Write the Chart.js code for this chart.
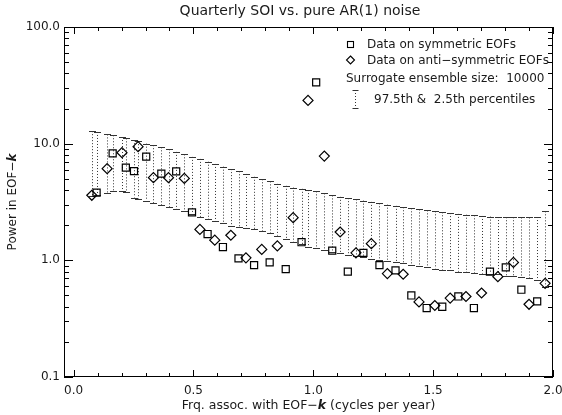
<!DOCTYPE html>
<html>
<head>
<meta charset="utf-8">
<title>Quarterly SOI vs. pure AR(1) noise</title>
<script src="https://cdn.jsdelivr.net/npm/chart.js@4.4.0/dist/chart.umd.min.js"></script>
<style>
  html, body { margin: 0; padding: 0; background: #fff; }
  #wrap { width: 562px; height: 415px; }
</style>
</head>
<body>
<div id="wrap"><canvas id="soiChart" width="562" height="415"></canvas></div>
<script>
// Quarterly SOI vs. pure AR(1) noise - MC-SSA spectrum

// Data on symmetric EOFs (squares)
const symFreq = [0.096, 0.163, 0.218, 0.252, 0.303, 0.366, 0.428, 0.494, 0.559, 0.623,
  0.688, 0.753, 0.818, 0.885, 0.951, 1.012, 1.079, 1.144, 1.209, 1.276,
  1.343, 1.409, 1.473, 1.538, 1.605, 1.670, 1.737, 1.803, 1.868, 1.934];
const symPower = [3.80, 8.26, 6.23, 5.82, 7.74, 5.53, 5.79, 2.58, 1.68, 1.30,
  1.04, 0.91, 0.96, 0.84, 1.43, 33.5, 1.21, 0.80, 1.16, 0.91,
  0.82, 0.50, 0.39, 0.40, 0.49, 0.39, 0.80, 0.87, 0.56, 0.445];

// Data on anti-symmetric EOFs (diamonds)
const antiFreq = [0.076, 0.140, 0.202, 0.269, 0.333, 0.396, 0.462, 0.527, 0.589, 0.656,
  0.719, 0.785, 0.850, 0.916, 0.978, 1.046, 1.112, 1.178, 1.242, 1.309,
  1.375, 1.441, 1.507, 1.571, 1.637, 1.702, 1.770, 1.835, 1.900, 1.967];
const antiPower = [3.61, 6.11, 8.37, 9.42, 5.11, 5.11, 5.04, 1.84, 1.49, 1.64,
  1.05, 1.24, 1.33, 2.32, 23.5, 7.83, 1.75, 1.16, 1.39, 0.77,
  0.76, 0.44, 0.41, 0.475, 0.49, 0.525, 0.725, 0.96, 0.42, 0.635];

// Surrogate percentiles, one bar per EOF (sorted by frequency)
const bandFreq = symFreq.concat(antiFreq).sort((a, b) => a - b);
const bandUpper = [12.8, 12.6, 12.0, 11.8, 11.4, 11.1, 10.7, 10.5, 10.0, 9.7,
  9.3, 8.95, 8.5, 8.1, 7.7, 7.4, 7.0, 6.7, 6.35, 6.05,
  5.8, 5.5, 5.2, 4.95, 4.75, 4.52, 4.35, 4.2, 4.1, 4.0,
  3.9, 3.75, 3.6, 3.5, 3.41, 3.33, 3.25, 3.17, 3.08, 3.0,
  2.93, 2.85, 2.79, 2.73, 2.68, 2.63, 2.58, 2.54, 2.5, 2.46,
  2.43, 2.4, 2.37, 2.35, 2.34, 2.34, 2.33, 2.33, 2.35, 2.63];
const bandLower = [3.56, 3.65, 3.8, 3.9, 3.95, 3.85, 3.45, 3.38, 3.25, 3.1,
  2.98, 2.86, 2.75, 2.63, 2.5, 2.36, 2.25, 2.16, 2.08, 1.98,
  1.93, 1.88, 1.84, 1.79, 1.72, 1.63, 1.53, 1.44, 1.37, 1.31,
  1.27, 1.23, 1.18, 1.15, 1.12, 1.09, 1.06, 1.03, 1.0, 0.98,
  0.96, 0.94, 0.92, 0.9, 0.87, 0.85, 0.83, 0.82, 0.8, 0.79,
  0.78, 0.77, 0.77, 0.76, 0.74, 0.73, 0.72, 0.70, 0.68, 0.59];

const xTicks = [0, 0.5, 1, 1.5, 2];
const yTicks = [0.1, 1, 10, 100];

const FONT = "'DejaVu Sans', sans-serif";
const INK = '#1a1a1a';

Chart.defaults.font.family = FONT;
Chart.defaults.color = INK;

// Draw text made of parts with different fonts, centred on (cx, cy)
function drawParts(ctx, parts, cx, cy) {
  const widths = parts.map(p => { ctx.font = p.font; return ctx.measureText(p.text).width; });
  let x = cx - widths.reduce((a, b) => a + b, 0) / 2;
  ctx.textAlign = 'left';
  ctx.textBaseline = 'middle';
  parts.forEach((p, i) => {
    ctx.font = p.font;
    ctx.fillText(p.text, x, cy);
    x += widths[i];
  });
}

function errorBar(ctx, px, top, bot, capHalf) {
  ctx.setLineDash([1, 2]);
  ctx.beginPath();
  ctx.moveTo(px, top);
  ctx.lineTo(px, bot);
  ctx.stroke();
  ctx.setLineDash([]);
  ctx.beginPath();
  ctx.moveTo(px - capHalf, Math.round(top) + 0.5);
  ctx.lineTo(px + capHalf, Math.round(top) + 0.5);
  ctx.moveTo(px - capHalf, Math.round(bot) + 0.5);
  ctx.lineTo(px + capHalf, Math.round(bot) + 0.5);
  ctx.stroke();
}

// Dotted percentile bars behind the data
const percentileBand = {
  id: 'percentileBand',
  beforeDatasetsDraw(chart) {
    const { ctx, scales: { x, y } } = chart;
    ctx.save();
    ctx.strokeStyle = '#333';
    ctx.lineWidth = 1;
    bandFreq.forEach((f, i) => {
      const px = Math.round(x.getPixelForValue(f)) + 0.5;
      errorBar(ctx, px, y.getPixelForValue(bandUpper[i]), y.getPixelForValue(bandLower[i]), 3.5);
    });
    ctx.restore();
  }
};

// IDL-style box, inward ticks, titles and legend
const frameAndLabels = {
  id: 'frameAndLabels',
  afterDraw(chart) {
    const { ctx, chartArea: { left, right, top, bottom }, scales: { x, y } } = chart;
    ctx.save();
    ctx.strokeStyle = '#000';
    ctx.lineWidth = 1;
    ctx.strokeRect(left + 0.5, top + 0.5, right - left - 1, bottom - top - 1);

    ctx.beginPath();
    // x ticks, bottom and top
    for (let i = 0; i <= 20; i++) {
      const v = i / 10;
      const len = i % 5 === 0 ? 7 : 4;
      const px = Math.round(x.getPixelForValue(v)) + 0.5;
      ctx.moveTo(px, bottom); ctx.lineTo(px, bottom - len);
      ctx.moveTo(px, top); ctx.lineTo(px, top + len);
    }
    // y ticks, left and right (log minors)
    yTicks.forEach((d, j) => {
      const py = Math.round(y.getPixelForValue(d)) + 0.5;
      ctx.moveTo(left, py); ctx.lineTo(left + 9, py);
      ctx.moveTo(right, py); ctx.lineTo(right - 9, py);
      if (j < yTicks.length - 1) {
        for (let k = 2; k <= 9; k++) {
          const pm = Math.round(y.getPixelForValue(d * k)) + 0.5;
          ctx.moveTo(left, pm); ctx.lineTo(left + 5, pm);
          ctx.moveTo(right, pm); ctx.lineTo(right - 5, pm);
        }
      }
    });
    ctx.stroke();

    ctx.fillStyle = INK;
    // title
    ctx.font = '14px ' + FONT;
    ctx.textAlign = 'center';
    ctx.textBaseline = 'middle';
    ctx.fillText('Quarterly SOI vs. pure AR(1) noise', 300, 11);

    // axis titles
    const plain = '12px ' + FONT;
    const kFont = 'italic bold 12px ' + FONT;
    drawParts(ctx, [
      { text: 'Frq. assoc. with EOF\u2212', font: '12.5px ' + FONT },
      { text: 'k', font: 'italic bold 12.5px ' + FONT },
      { text: ' (cycles per year)', font: '12.5px ' + FONT }
    ], (left + right) / 2, 406);

    ctx.save();
    ctx.translate(13, (top + bottom) / 2);
    ctx.rotate(-Math.PI / 2);
    drawParts(ctx, [
      { text: 'Power in EOF\u2212', font: plain },
      { text: 'k', font: kFont }
    ], 0, 0);
    ctx.restore();

    // legend
    ctx.font = plain;
    ctx.textAlign = 'left';
    ctx.textBaseline = 'middle';
    ctx.lineWidth = 1.1;
    ctx.strokeRect(347.5, 41.5, 6, 6);
    ctx.fillText('Data on symmetric EOFs', 367, 45);
    ctx.beginPath();
    ctx.moveTo(350.5, 56); ctx.lineTo(354.5, 60); ctx.lineTo(350.5, 64); ctx.lineTo(346.5, 60);
    ctx.closePath();
    ctx.stroke();
    ctx.fillText('Data on anti\u2212symmetric EOFs', 367, 61);
    ctx.fillText('Surrogate ensemble size:  10000', 346, 79);
    ctx.lineWidth = 1;
    ctx.strokeStyle = '#333';
    errorBar(ctx, 355.5, 90, 108, 3);
    ctx.fillText('97.5th &  2.5th percentiles', 374, 100);
    ctx.restore();
  }
};

const pointStyleBase = {
  showLine: false,
  pointRadius: 5,
  pointHoverRadius: 5,
  borderColor: '#000',
  backgroundColor: 'transparent',
  borderWidth: 1.2
};

new Chart(document.getElementById('soiChart'), {
  type: 'scatter',
  data: {
    datasets: [
      Object.assign({
        label: 'Data on symmetric EOFs',
        data: symFreq.map((f, i) => ({ x: f, y: symPower[i] })),
        pointStyle: 'rect'
      }, pointStyleBase),
      Object.assign({
        label: 'Data on anti-symmetric EOFs',
        data: antiFreq.map((f, i) => ({ x: f, y: antiPower[i] })),
        pointStyle: 'rectRot'
      }, pointStyleBase)
    ]
  },
  options: {
    responsive: false,
    animation: false,
    events: [],
    layout: { padding: { top: 27, right: 9, left: 0, bottom: 0 } },
    plugins: { legend: { display: false }, tooltip: { enabled: false }, title: { display: false } },
    scales: {
      x: {
        type: 'linear', min: -0.04, max: 2.0,
        afterBuildTicks: s => { s.ticks = xTicks.map(v => ({ value: v })); },
        afterFit: s => { s.height = 38; s.paddingLeft = 0; s.paddingRight = 0; },
        grid: { display: false, drawTicks: false },
        border: { display: false },
        ticks: { callback: v => v.toFixed(1), font: { size: 12 }, color: INK, padding: 7, maxRotation: 0, autoSkip: false }
      },
      y: {
        type: 'logarithmic', min: 0.1, max: 100,
        afterBuildTicks: s => { s.ticks = yTicks.map(v => ({ value: v })); },
        afterFit: s => { s.width = 64; s.paddingTop = 0; s.paddingBottom = 0; },
        grid: { display: false, drawTicks: false },
        border: { display: false },
        ticks: { callback: v => Number(v).toFixed(1), font: { size: 12 }, color: INK, padding: 4, autoSkip: false }
      }
    }
  },
  plugins: [percentileBand, frameAndLabels]
});
</script>
</body>
</html>
